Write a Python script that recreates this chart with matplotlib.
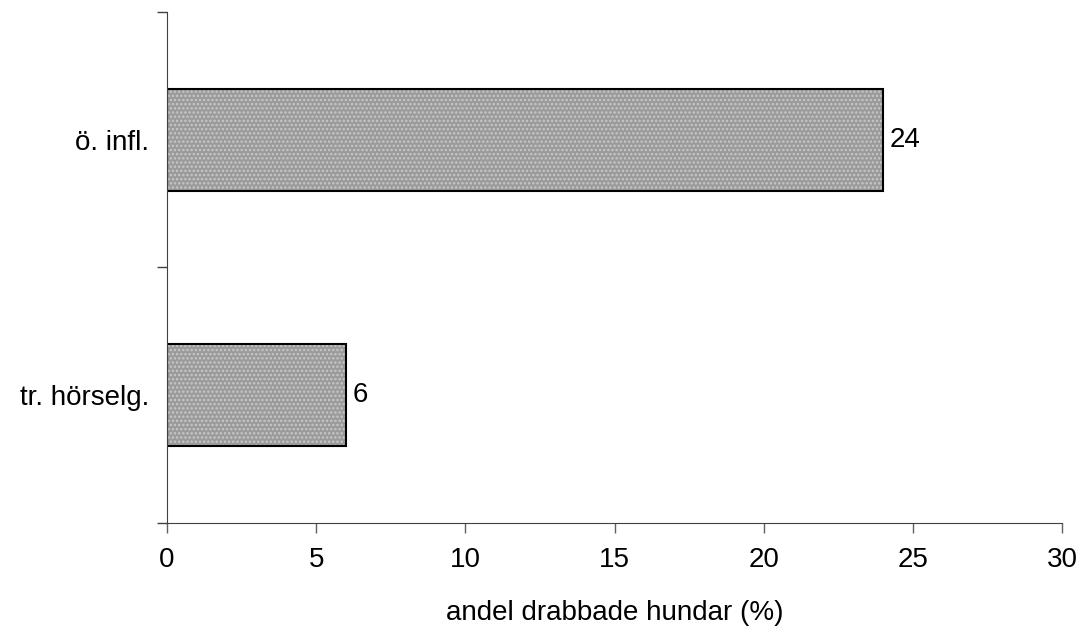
import matplotlib
matplotlib.use("Agg")
import matplotlib.pyplot as plt

# data
categories = ["tr. hörselg.", "ö. infl."]
values = [6, 24]
xticks = [0, 5, 10, 15, 20, 25, 30]
xlabel = "andel drabbade hundar (%)"

plt.rcParams['font.family'] = ['Liberation Sans', 'DejaVu Sans']
plt.rcParams['hatch.linewidth'] = 1.2

fig = plt.figure(figsize=(10.78, 6.3), dpi=100)
ax = fig.add_axes([0.1549, 0.1698, 0.8303, 0.8112])

pos = list(range(len(categories)))
# dotted grey fill, then the black outline on top
ax.barh(pos, values, height=0.4, color='#9a9a9a', hatch='....',
        edgecolor='#c8c8c8', linewidth=0)
ax.barh(pos, values, height=0.4, fill=False, edgecolor='black', linewidth=1.5)

for p, v in zip(pos, values):
    ax.text(v + 0.22, p, str(v), va='center', ha='left', fontsize=20)

ax.set_xlim(0, 30)
ax.set_ylim(-0.5, 1.5)
ax.set_xticks(xticks)
ax.set_xticklabels([str(t) for t in xticks], fontsize=20)
ax.set_xlabel(xlabel, fontsize=20, labelpad=20)

# category ticks sit between the bars, labels centred on the bars
ax.set_yticks([-0.5, 0.5, 1.5])
ax.set_yticklabels([])
ax.set_yticks(pos, minor=True)
ax.set_yticklabels(categories, minor=True, fontsize=20)
ax.tick_params(axis='y', which='minor', length=0, pad=13)
ax.tick_params(axis='y', which='major', length=7, width=1, color='#404040')
ax.tick_params(axis='x', length=7, width=1, color='#606060', pad=10)

for side in ['top', 'right']:
    ax.spines[side].set_visible(False)
ax.spines['left'].set_color('#404040')
ax.spines['bottom'].set_color('#404040')

fig.savefig("out.png", dpi=100)
